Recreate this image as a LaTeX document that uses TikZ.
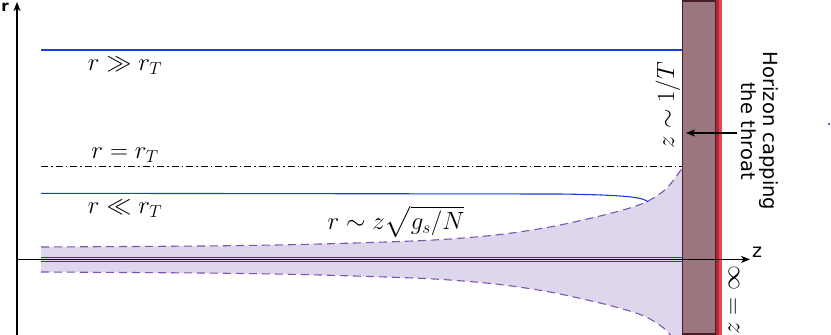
\documentclass[tikz,border=0pt]{standalone}
\usepackage{fontspec}
\usepackage{amsmath,amssymb}
\newfontfamily\dvs{DejaVu Sans}
\usetikzlibrary{arrows.meta}
\definecolor{bluel}{RGB}{25,60,225}
\definecolor{purpfill}{RGB}{222,214,236}
\definecolor{purpline}{RGB}{125,85,175}
\definecolor{horfill}{RGB}{155,118,126}
\definecolor{horline}{RGB}{75,28,44}
\definecolor{reddark}{RGB}{170,40,56}
\definecolor{redlight}{RGB}{228,72,80}
\tikzset{
  axisline/.style={line width=1.2pt, black, -{Stealth[length=9pt,width=7pt,inset=2.5pt]}},
  bluebrane/.style={bluel, line width=1.1pt},
  dashdotline/.style={black, line width=0.9pt, dash pattern=on 7pt off 3pt on 1.5pt off 3pt},
  throatedge/.style={purpline, line width=1.1pt, dash pattern=on 8pt off 5pt},
  mathlbl/.style={inner sep=0pt, font=\fontsize{26}{30}\selectfont},
  sanslbl/.style={inner sep=0pt, font=\dvs\fontsize{19.5}{22.5}\selectfont},
  pointer/.style={line width=1.2pt, black, -{Stealth[length=9pt,width=7pt,inset=2.5pt]}}
}
\begin{document}
\begin{tikzpicture}[x=1pt,y=-1pt]
\useasboundingbox (0,0) rectangle (831,335);
\clip (0,0) rectangle (831,335);

% throat region
\fill[purpfill] plot[smooth] coordinates {(41,247) (200,246) (300,244.5) (400,241.5) (450,239) (500,234.5) (550,227) (600,216) (633,207) (650,200) (667,188) (683,167)}
  -- plot[smooth] coordinates {(683,352) (667,331) (650,319) (633,312) (600,303) (550,292) (500,284.5) (450,280) (400,277.5) (300,274.5) (200,273) (41,272)} -- cycle;
\draw[throatedge] plot[smooth] coordinates {(41,247) (200,246) (300,244.5) (400,241.5) (450,239) (500,234.5) (550,227) (600,216) (633,207) (650,200) (667,188) (683,167)};
\draw[throatedge] plot[smooth] coordinates {(41,272) (200,273) (300,274.5) (400,277.5) (450,280) (500,284.5) (550,292) (600,303) (633,312) (650,319) (667,331) (683,352)};

% branes
\coordinate (b1s) at (41,50);   \coordinate (b1e) at (683,50);
\coordinate (dds) at (41,166);  \coordinate (dde) at (683,166);
\coordinate (b2s) at (41,193.3); \coordinate (b2m) at (560,194); \coordinate (b2e) at (648,202);
\coordinate (b3s) at (41,257.4); \coordinate (b3e) at (683,257.4);
\coordinate (b4s) at (41,261.3); \coordinate (b4e) at (683,261.3);
\draw[bluebrane] (b1s) -- (b1e);
\draw[dashdotline] (dds) -- (dde);
\draw[bluebrane] (b2s) -- (b2m) .. controls (625,195) and (643,197) .. (b2e);
\draw[bluebrane] (b3s) -- (b3e);
\draw[bluebrane] (b4s) -- (b4e);

% horizon
\fill[horfill] (682.5,1) rectangle (716,334);
\draw[horline, line width=1.3pt] (682.5,1) rectangle (716,334);
\fill[reddark] (716,0) rectangle (718.5,335);
\fill[redlight] (718.5,0) rectangle (721.7,335);

% axes
\coordinate (rbot) at (17,335);
\coordinate (rtop) at (17,2);
\coordinate (zlft) at (17,259.4);
\coordinate (zrgt) at (750,259.4);
\draw[axisline] (rbot) -- (rtop);
\draw[axisline, line width=1pt] (zlft) -- (zrgt);
\node[sanslbl, font=\dvs\bfseries\fontsize{15}{17}\selectfont] (rlab) at (5,7.5) {r};
\node[sanslbl, font=\dvs\fontsize{19}{22}\selectfont] (zlab) at (757,252) {z};

% labels
\node[mathlbl] (lgg) at (125,66) {$r\gg r_T$};
\node[mathlbl] (leq) at (125,155) {$r=r_T$};
\node[mathlbl] (lll) at (125,209) {$r\ll r_T$};
\node[mathlbl] (lsq) at (396,222) {$r\sim z\sqrt{g_s/N}$};
\node[mathlbl, font=\fontsize{25}{30}\selectfont, rotate=90] (lzt) at (668,105) {$z\sim 1/T$};
\node[mathlbl, font=\fontsize{24}{30}\selectfont, rotate=90] (lzi) at (734,300) {$z=\infty$};

\node[sanslbl, rotate=-90, align=center] (hor) at (760,131) {Horizon capping\\the throat};
\coordinate (ps) at (737,133);
\coordinate (pe) at (686,133);
\draw[pointer] (ps) -- (pe);

% stray mark
\fill[purpline] (828,123) rectangle (830,125);
\end{tikzpicture}
\end{document}
